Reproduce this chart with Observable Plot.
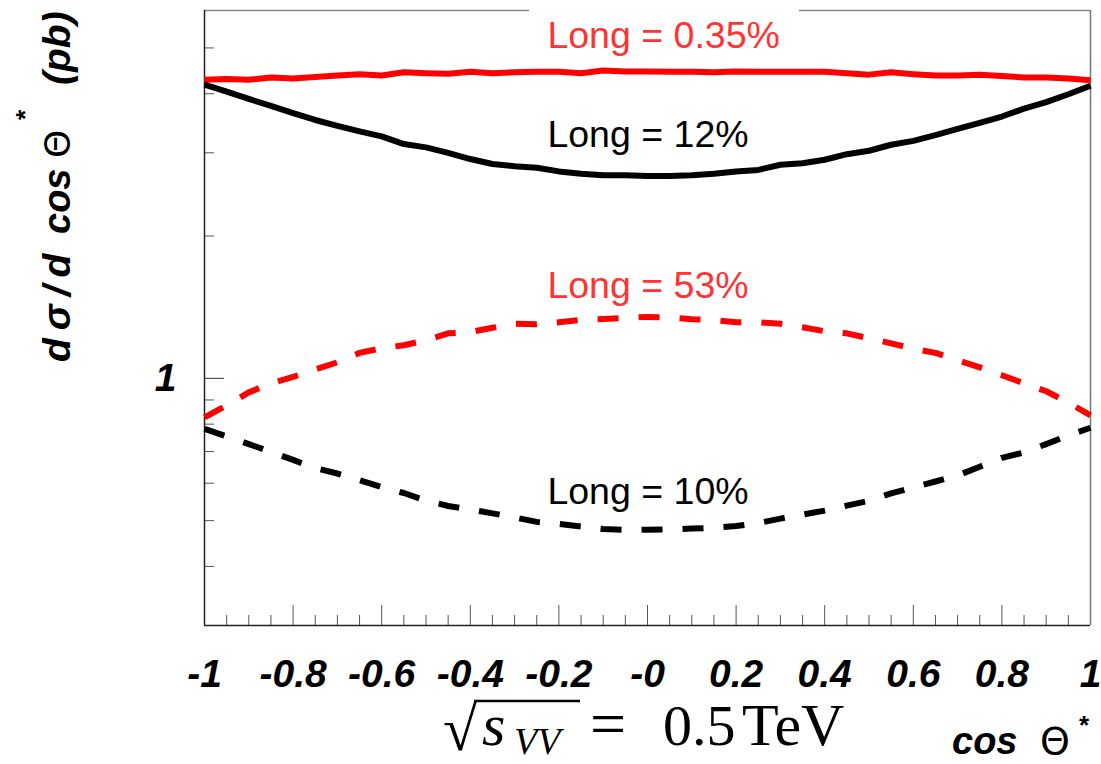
<!DOCTYPE html>
<html><head><meta charset="utf-8">
<script src="https://cdn.jsdelivr.net/npm/d3@7"></script>
<script src="https://cdn.jsdelivr.net/npm/@observablehq/plot@0.6"></script>
<style>
html,body{margin:0;padding:0;background:#fff;}
#chart{position:relative;width:1101px;height:764px;overflow:hidden;}
#chart svg{display:block;}
</style></head><body><div id="chart"></div>
<script>
// ---- data ----
const cosTheta = [-1.00,-0.95,-0.90,-0.85,-0.80,-0.75,-0.70,-0.65,-0.60,-0.55,-0.50,-0.45,-0.40,-0.35,-0.30,-0.25,-0.20,-0.15,-0.10,-0.05,0.00,0.05,0.10,0.15,0.20,0.25,0.30,0.35,0.40,0.45,0.50,0.55,0.60,0.65,0.70,0.75,0.80,0.85,0.90,0.95,1.00];
const long035 = [4.28,4.30,4.28,4.33,4.31,4.34,4.37,4.40,4.37,4.44,4.42,4.41,4.45,4.42,4.44,4.45,4.45,4.42,4.48,4.46,4.46,4.45,4.45,4.44,4.46,4.45,4.45,4.45,4.45,4.42,4.39,4.44,4.40,4.37,4.37,4.39,4.36,4.33,4.33,4.31,4.27];
const long12 = [4.18,4.04,3.90,3.77,3.64,3.52,3.42,3.33,3.25,3.13,3.08,3.00,2.91,2.84,2.81,2.79,2.74,2.71,2.69,2.69,2.68,2.68,2.69,2.71,2.74,2.76,2.83,2.85,2.90,2.98,3.03,3.12,3.18,3.27,3.37,3.47,3.58,3.72,3.84,3.99,4.16];
const long53 = [0.827,0.877,0.934,0.976,1.007,1.045,1.081,1.132,1.158,1.175,1.204,1.245,1.253,1.279,1.305,1.301,1.314,1.330,1.335,1.343,1.349,1.346,1.334,1.327,1.314,1.314,1.305,1.282,1.258,1.245,1.215,1.186,1.155,1.132,1.092,1.055,1.015,0.976,0.939,0.889,0.835];
const long10 = [0.782,0.754,0.726,0.699,0.672,0.646,0.629,0.609,0.589,0.572,0.551,0.537,0.528,0.518,0.508,0.497,0.492,0.486,0.480,0.478,0.478,0.479,0.481,0.483,0.487,0.494,0.505,0.515,0.525,0.538,0.551,0.571,0.588,0.605,0.623,0.650,0.679,0.697,0.726,0.757,0.786];
const seriesLabels = ["Long = 0.35%","Long = 12%","Long = 53%","Long = 10%"];
const xMajorTicks = [-1,-0.8,-0.6,-0.4,-0.2,0,0.2,0.4,0.6,0.8,1];
const xTickLabels = ["-1","-0.8","-0.6","-0.4","-0.2","-0","0.2","0.4","0.6","0.8","1"];
const xMinorTicks = [-0.95,-0.9,-0.85,-0.75,-0.7,-0.65,-0.55,-0.5,-0.45,-0.35,-0.3,-0.25,-0.15,-0.1,-0.05,0.05,0.1,0.15,0.25,0.3,0.35,0.45,0.5,0.55,0.65,0.7,0.75,0.85,0.9,0.95];
const yMajorTicks = [1];
const yTickLabels = ["1"];
const yMinorTicks = [0.4,0.5,0.6,0.7,0.8,0.9,2,3,4,5];
const xDomain = [-1, 1];
const yDomain = [0.3, 6];

// ---- build table ----
const series = [
  {name: seriesLabels[0], values: long035, color: "#ff0000", dash: null},
  {name: seriesLabels[1], values: long12,  color: "#000000", dash: null},
  {name: seriesLabels[2], values: long53,  color: "#ff0000", dash: "21 20"},
  {name: seriesLabels[3], values: long10,  color: "#000000", dash: "21 20"}
];
const rows = s => cosTheta.map((x, i) => ({x, y: s.values[i]}));

// annotation anchors (data space)
const labelRows = [
  {text: seriesLabels[0], x: -0.226, y: 5.00, color: "#ff3333"},
  {text: seriesLabels[1], x: -0.226, y: 3.09, color: "#000000"},
  {text: seriesLabels[2], x: -0.226, y: 1.48, color: "#ff3333"},
  {text: seriesLabels[3], x: -0.226, y: 0.543, color: "#000000"}
];
const labelBox = [{x1: -0.266, x2: 0.343, y1: 4.76, y2: 6.5}];

const W = 1101, H = 764, mL = 204, mR = 11, mT = 10, mB = 139;
const innerW = W - mL - mR, innerH = H - mT - mB;
const sans = "'Liberation Sans', Arial, Helvetica, sans-serif";
const tickFont = {fontSize: 39, fontWeight: "bold", fontStyle: "italic"};

const marks = [
  Plot.ruleX(xMinorTicks, {stroke: "#555", strokeWidth: 1, insetTop: innerH - 10}),
  Plot.ruleX(xMajorTicks, {stroke: "#555", strokeWidth: 1, insetTop: innerH - 20}),
  Plot.ruleY(yMinorTicks, {stroke: "#555", strokeWidth: 1, insetRight: innerW - 10}),
  Plot.ruleY(yMajorTicks, {stroke: "#333", strokeWidth: 1, insetRight: innerW - 20}),
  Plot.ruleY([yDomain[1]], {stroke: "#888", strokeWidth: 1.5}),
  Plot.ruleX([xDomain[1]], {stroke: "#777", strokeWidth: 1.5}),
  Plot.ruleY([yDomain[0]], {stroke: "#222", strokeWidth: 1.5}),
  Plot.ruleX([xDomain[0]], {stroke: "#222", strokeWidth: 1.5}),
  ...series.map(s => Plot.line(rows(s), {
    x: "x", y: "y", stroke: s.color, strokeWidth: 6,
    strokeDasharray: s.dash, strokeLinecap: "butt", strokeLinejoin: "round"
  })),
  Plot.rect(labelBox, {x1: "x1", x2: "x2", y1: "y1", y2: "y2", fill: "white"}),
  Plot.text(labelRows, {x: "x", y: "y", text: "text", fill: "color",
    textAnchor: "start", lineAnchor: "bottom", fontSize: 37.5}),
  Plot.axisX(xMajorTicks, {anchor: "bottom", tickSize: 0, tickPadding: 34, label: null,
    tickFormat: d => xTickLabels[xMajorTicks.indexOf(d)], ...tickFont}),
  Plot.axisY(yMajorTicks, {anchor: "left", tickSize: 0, tickPadding: 28, label: null,
    tickFormat: d => yTickLabels[yMajorTicks.indexOf(d)], ...tickFont})
];

const plot = Plot.plot({
  width: W, height: H,
  marginLeft: mL, marginRight: mR, marginTop: mT, marginBottom: mB,
  x: {domain: xDomain, label: null},
  y: {type: "log", domain: yDomain, label: null},
  style: {fontFamily: sans, background: "white", color: "black"},
  marks
});
document.getElementById("chart").appendChild(plot);

// ---- titles ----
const svg = d3.select(plot);
const ytitle = svg.append("g").attr("font-family", sans).attr("font-weight", "bold")
  .attr("font-style", "italic").attr("fill", "black").attr("text-anchor", "start");
function vtext(px, py, txt, size, extra) {
  const t = ytitle.append("text").attr("transform", `translate(${px},${py}) rotate(-90)`)
    .attr("font-size", size).text(txt);
  if (extra) extra(t);
  return t;
}
vtext(70, 362, "dσ/d", 39, t => t.attr("letter-spacing", 8));
vtext(70, 234, "cos", 38);
vtext(70, 158, "Θ", 36, t => t.attr("font-weight", "normal").attr("font-style", "normal").attr("font-family", "'DejaVu Sans', sans-serif"));
vtext(34, 121, "*", 26);
vtext(70, 85, "(pb)", 39);

// x title
const xt = svg.append("g").attr("font-family", sans).attr("font-weight", "bold")
  .attr("font-style", "italic").attr("fill", "black").attr("text-anchor", "start");
xt.append("text").attr("x", 952).attr("y", 754).attr("font-size", 38).text("cos");
xt.append("text").attr("x", 1040).attr("y", 754).attr("font-size", 38).attr("font-weight", "normal")
  .attr("font-style", "normal").attr("font-family", "'DejaVu Sans', sans-serif").text("Θ");
xt.append("text").attr("x", 1078).attr("y", 734).attr("font-size", 26).text("*");

// energy formula
const serif = "'Liberation Serif', 'DejaVu Serif', serif";
const fm = svg.append("g").attr("font-family", serif).attr("fill", "black").attr("text-anchor", "start");
fm.append("text").attr("x", 443).attr("y", 750).attr("font-size", 62).text("√");
fm.append("line").attr("x1", 474).attr("x2", 580).attr("y1", 701).attr("y2", 701).attr("stroke", "black").attr("stroke-width", 2.5);
fm.append("text").attr("x", 482).attr("y", 745).attr("font-size", 60).attr("font-style", "italic").text("s");
fm.append("text").attr("x", 514).attr("y", 754).attr("font-size", 38).attr("font-style", "italic").text("VV");
fm.append("text").attr("x", 590).attr("y", 745).attr("font-size", 64).text("=");
fm.append("text").attr("x", 663).attr("y", 745).attr("font-size", 58).text("0.5");
fm.append("text").attr("x", 742).attr("y", 745).attr("font-size", 60).text("TeV");
</script></body></html>
